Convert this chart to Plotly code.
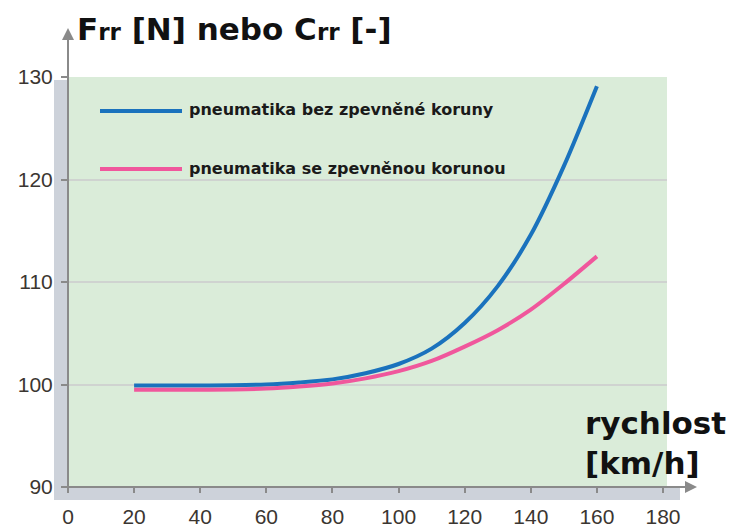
import plotly.graph_objects as go

# ---- data ----
speed = [20, 40, 60, 70, 80, 90, 100, 110, 120, 130, 140, 150, 160]
bez_zpevneni = [99.9, 99.9, 100.0, 100.2, 100.5, 101.1, 102.0, 103.5, 106.0, 109.6, 114.6, 121.3, 129.1]
se_zpevnenim = [99.5, 99.5, 99.6, 99.8, 100.1, 100.6, 101.3, 102.3, 103.7, 105.3, 107.3, 109.8, 112.5]
series_names = ["pneumatika bez zpevněné koruny", "pneumatika se zpevněnou korunou"]
series_colors = ["#1a72bd", "#f0579c"]
x_ticks = [0, 20, 40, 60, 80, 100, 120, 140, 160, 180]
y_ticks = [90, 100, 110, 120, 130]

OFF = 8  # page body margin
W, H = 734 - OFF, 529 - OFF
L, T = 68 - OFF, 77 - OFF
R, B = 67, 42
pw, ph = W - L - R, H - T - B

def px(xp):  # reference pixel x -> paper
    return (xp - OFF - L) / pw

def py(yp):  # reference pixel y -> paper
    return (T + ph - (yp - OFF)) / ph

fig = go.Figure()
for name, vals, col in zip(series_names, [bez_zpevneni, se_zpevnenim], series_colors):
    fig.add_trace(go.Scatter(x=speed, y=vals, mode="lines", name=name,
                             line=dict(color=col, width=4, shape="spline", smoothing=0.8),
                             showlegend=False))

tickfont = dict(family="Liberation Sans", size=21, color="#3b3631")
fig.update_layout(
    width=W, height=H,
    margin=dict(l=L, r=R, t=T, b=B, autoexpand=False),
    paper_bgcolor="white",
    plot_bgcolor="#daecd9",
    xaxis=dict(range=[0, 181.2], tickvals=x_ticks, showgrid=False, zeroline=False, automargin=False,
               showline=False, ticks="outside", ticklen=5, tickcolor="#8a8a8a", tickwidth=2,
               tickfont=tickfont, ticklabelstandoff=6),
    yaxis=dict(range=[90, 130], tickvals=y_ticks, showgrid=True, gridcolor="#cfd3d0", gridwidth=2,
               zeroline=False, showline=False, ticks="outside", ticklen=6, tickcolor="#8a8a8a",
               automargin=False, tickwidth=2, tickfont=tickfont, ticklabelstandoff=4),
)

shapes = []
# shadow strips
shapes.append(dict(type="rect", xref="paper", yref="paper", x0=px(54), x1=px(68), y0=py(500), y1=py(80),
                   fillcolor="#cdd2da", line=dict(width=0), layer="below"))
shapes.append(dict(type="rect", xref="paper", yref="paper", x0=px(54), x1=px(680), y0=py(500), y1=0,
                   fillcolor="#cdd2da", line=dict(width=0), layer="below"))
# legend lines
for yl, col in zip([111, 169], series_colors):
    shapes.append(dict(type="line", xref="paper", yref="paper", x0=px(100), x1=px(182), y0=py(yl), y1=py(yl),
                       line=dict(color=col, width=4)))
fig.update_layout(shapes=shapes)

ann = []
# axis arrows
ann.append(dict(xref="paper", yref="paper", x=0, y=py(28), ax=0, ay=492 - 28,
                axref="pixel", ayref="pixel", showarrow=True, arrowhead=2, arrowsize=1.2,
                arrowwidth=2, arrowcolor="#8a8a8a", text=""))
ann.append(dict(xref="paper", yref="paper", x=px(697), y=0, ax=-(697 - 62), ay=0,
                axref="pixel", ayref="pixel", showarrow=True, arrowhead=2, arrowsize=1.2,
                arrowwidth=2, arrowcolor="#8a8a8a", text=""))
# legend texts
for yl, name in zip([110, 168], series_names):
    ann.append(dict(xref="paper", yref="paper", x=px(187), y=py(yl), xanchor="left", yanchor="middle",
                    text=name, showarrow=False,
                    font=dict(family="DejaVu Sans", size=16, color="#1a1a1a", weight="bold")))
# axis titles
ann.append(dict(xref="paper", yref="paper", x=px(75), y=py(29), xanchor="left", yanchor="middle",
                text="F<span style='font-size:23px'>rr</span> [N] nebo C<span style='font-size:23px'>rr</span> [-]",
                showarrow=False, font=dict(family="DejaVu Sans", size=31, color="#111111", weight="bold")))
ann.append(dict(xref="paper", yref="paper", x=px(583), y=py(423), xanchor="left", yanchor="middle",
                text="rychlost", showarrow=False,
                font=dict(family="DejaVu Sans", size=31, color="#111111", weight="bold")))
ann.append(dict(xref="paper", yref="paper", x=px(583), y=py(463), xanchor="left", yanchor="middle",
                text="[km/h]", showarrow=False,
                font=dict(family="DejaVu Sans", size=31, color="#111111", weight="bold")))
fig.update_layout(annotations=ann)

fig.write_html("out.html")
